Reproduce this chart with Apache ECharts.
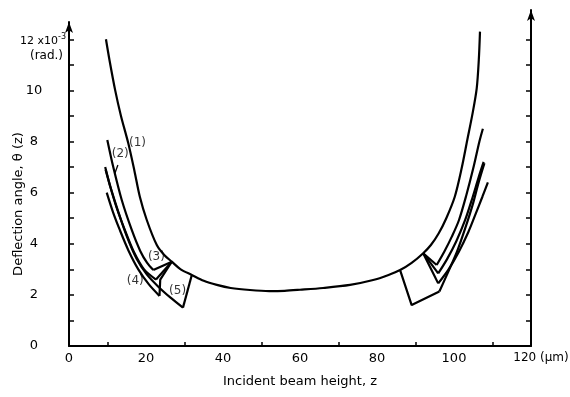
<!DOCTYPE html>
<html><head><meta charset="utf-8">
<script src="https://cdn.jsdelivr.net/npm/echarts@6/dist/echarts.min.js"></script>
<style>html,body{margin:0;padding:0;background:#fff}#c{width:570px;height:397px}</style>
</head><body><div id="c"></div>
<script>
// ---- data (z in µm, theta in 1e-3 rad) ----
const xTickLabels = [0, 20, 40, 60, 80, 100, 120];
const xMinorTicks = [10, 30, 50, 70, 90, 110];
const yTickLabels = [0, 2, 4, 6, 8, 10];
const yTicks = [1, 2, 3, 4, 5, 6, 7, 8, 9, 10, 11, 12];

const mainCurve = [[9.6,12.0],[10.5,11.2],[12,10.0],[13.5,9.0],[15.4,7.93],[17,6.85],[18.4,5.84],[20.2,4.93],[22.8,3.95],[24.8,3.55],[26.7,3.3],[29,3.0],[31.9,2.78],[35,2.55],[38.4,2.39],[42,2.27],[47,2.19],[52,2.15],[56,2.16],[60,2.2],[66,2.27],[73,2.39],[79,2.58],[83,2.78],[86,2.97],[89,3.25],[92,3.63],[94,3.95],[96,4.4],[98,5.0],[100.2,5.84],[102,6.96],[103.45,8.06],[104.8,9.08],[105.9,10.08],[106.44,11.19],[106.75,12.3]];

const branch2Left = [[9.95,8.06],[11.5,7.0],[13.7,5.71],[16.3,4.54],[18.5,3.72],[20.3,3.25],[21.9,2.97]];
const link2Left = [[21.9,2.97],[26.7,3.3]];
const branch3Left = [[9.4,7.0],[10.6,6.3],[12.4,5.4],[14.5,4.54],[16.8,3.7],[19.5,3.0],[22.6,2.6]];
const link3Left = [[22.6,2.6],[26.7,3.3]];
const branch4Left = [[9.8,6.0],[11.4,5.25],[13.2,4.54],[15.5,3.72],[18,3.0],[20.7,2.42],[23.5,1.96]];
const link4Left = [[23.5,1.96],[23.7,2.6],[26.7,3.3]];
const branch5Left = [[9.5,6.9],[10.8,6.2],[12.7,5.3],[15,4.3],[17.6,3.4],[20.2,2.8],[23.2,2.32],[26.3,1.9],[29.6,1.5]];
const link5Left = [[29.6,1.5],[31.9,2.78]];

const link2Right = [[92,3.63],[95.5,3.17]];
const branch2Right = [[95.5,3.17],[97.5,3.7],[99.5,4.3],[101.3,4.93],[103.2,5.9],[105,6.95],[106.6,8.0],[107.5,8.5]];
const link3Right = [[92,3.63],[95.9,2.84]];
const branch3Right = [[95.9,2.84],[98.2,3.4],[100.6,4.1],[102.9,4.93],[104.8,5.8],[106.4,6.6],[107.7,7.2]];
const link4Right = [[92,3.63],[95.9,2.45]];
const branch4Right = [[95.9,2.45],[98.6,3.0],[101.3,3.7],[103.7,4.45],[105.7,5.2],[107.4,5.85],[108.8,6.4]];
const link5Right = [[86,2.97],[89,1.6],[96.2,2.13]];
const branch5Right = [[96.2,2.13],[98.5,2.9],[100.8,3.7],[102.9,4.6],[104.8,5.5],[106.4,6.4],[107.9,7.15]];

const pointer2 = [[12.7,7.08],[11.9,6.75]];
const curveLabelPos = [[17.8,7.95],[13.3,7.5],[22.7,3.5],[17.2,2.55],[28.2,2.15]];
const curveLabelText = ['(1)','(2)','(3)','(4)','(5)'];

// ---- chart ----
const FONT = 'DejaVu Sans';
const PX_PER_UNIT = 25.56;
const chart = echarts.init(document.getElementById('c'), null, {renderer: 'canvas'});

const series = [];
function addLine(data, width, smooth) {
  series.push({type: 'line', xAxisIndex: 0, yAxisIndex: 0, data: data, smooth: smooth,
    symbol: 'none', silent: true, lineStyle: {color: '#000', width: width}, z: 3});
}
addLine(mainCurve, 2.2, 0.3);
[branch2Left, branch3Left, branch4Left, branch5Left,
 branch2Right, branch3Right, branch4Right, branch5Right].forEach(b => addLine(b, 2.2, 0.3));
[link2Left, link3Left, link4Left, link5Left,
 link2Right, link3Right, link4Right, link5Right].forEach(l => addLine(l, 2.2, false));
addLine(pointer2, 1.3, false);
series.push({type: 'scatter', xAxisIndex: 0, yAxisIndex: 0, symbolSize: 0, silent: true,
  data: curveLabelPos.map((p, i) => ({value: p, name: curveLabelText[i]})),
  label: {show: true, position: 'inside', formatter: p => p.name, color: '#000',
    fontFamily: FONT, fontSize: 12}});

const grid0Top = 22, grid1Top = 10, gridBottom = 51;
const yMax0 = (397 - gridBottom - grid0Top) / PX_PER_UNIT;
const yMax1 = (397 - gridBottom - grid1Top) / PX_PER_UNIT;

chart.setOption({
  animation: false,
  backgroundColor: '#fff',
  grid: [
    {left: 69, right: 39, top: grid0Top, bottom: gridBottom, outerBoundsMode: 'none', containLabel: false},
    {left: 69, right: 39, top: grid1Top, bottom: gridBottom, outerBoundsMode: 'none', containLabel: false}
  ],
  xAxis: [
    {type: 'value', gridIndex: 0, min: 0, max: 120, interval: 10,
     name: 'Incident beam height, z', nameLocation: 'middle', nameGap: 29, nameMoveOverlap: false,
     nameTextStyle: {fontFamily: FONT, fontSize: 13, color: '#000'},
     axisLine: {show: true, lineStyle: {color: '#000', width: 2}},
     axisTick: {show: true, inside: true, length: 4, customValues: xMinorTicks, lineStyle: {color: '#000', width: 1.5}},
     axisLabel: {customValues: xTickLabels, margin: 6, color: '#000', fontFamily: FONT, fontSize: 13,
       formatter: v => v === 120 ? '{u|120 (μm)}' : String(v),
       rich: {u: {fontFamily: FONT, fontSize: 12, color: '#000', padding: [0, 0, 0, 20]}}},
     splitLine: {show: false}},
    {type: 'value', gridIndex: 1, min: 0, max: 120, show: false}
  ],
  yAxis: [
    {type: 'value', gridIndex: 0, position: 'left', min: 0, max: yMax0, interval: 1,
     name: 'Deflection angle, θ (z)', nameLocation: 'middle', nameRotate: 90, nameGap: 44, nameMoveOverlap: false,
     nameTextStyle: {fontFamily: FONT, fontSize: 13, color: '#000', padding: [0, 40, 0, 0]},
     axisLine: {show: true, onZero: false, symbol: ['none', 'arrow'], symbolSize: [6, 11], lineStyle: {color: '#000', width: 2}},
     axisTick: {show: true, inside: true, length: 5, customValues: yTicks, lineStyle: {color: '#000', width: 1.5}},
     axisLabel: {customValues: yTickLabels, margin: 35, align: 'center', color: '#000', fontFamily: FONT, fontSize: 13},
     splitLine: {show: false}},
    {type: 'value', gridIndex: 1, position: 'right', min: 0, max: yMax1, interval: 1,
     axisLine: {show: true, onZero: false, symbol: ['none', 'arrow'], symbolSize: [6, 11], lineStyle: {color: '#000', width: 2}},
     axisTick: {show: true, inside: true, length: 5, customValues: yTicks, lineStyle: {color: '#000', width: 1.5}},
     axisLabel: {show: false},
     splitLine: {show: false}}
  ],
  series: series
});

const y12 = chart.convertToPixel({yAxisIndex: 0}, 12);
chart.setOption({
  graphic: [
    {type: 'text', x: 43, y: y12 + 2, silent: true,
     style: {text: '{a|12 x10}{s|-3}', align: 'center', verticalAlign: 'middle',
       rich: {a: {fontFamily: FONT, fontSize: 11, fill: '#000'},
              s: {fontFamily: FONT, fontSize: 8, fill: '#000', verticalAlign: 'top', padding: [0, 0, 8, 0]}}}},
    {type: 'text', x: 46.5, y: y12 + 17, silent: true,
     style: {text: '(rad.)', align: 'center', verticalAlign: 'middle', fontFamily: FONT, fontSize: 12, fill: '#000'}}
  ]
});
</script>
</body></html>
